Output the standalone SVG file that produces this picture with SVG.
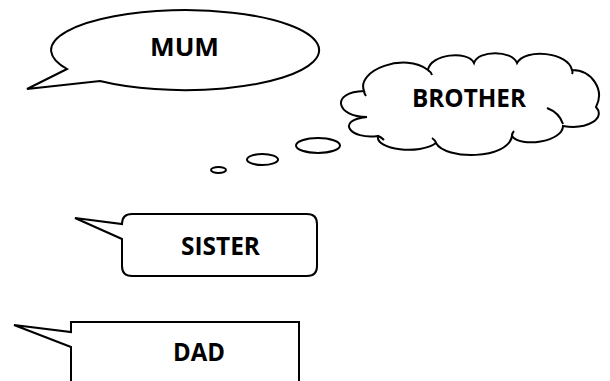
<svg xmlns="http://www.w3.org/2000/svg" width="610" height="381" viewBox="0 0 610 381">
<style>
.shape{fill:#fff;stroke:#000;stroke-width:2;stroke-linejoin:miter}
.tail{fill:none;stroke:#000;stroke-width:2}
.lbl{font-family:"Open Sans","Liberation Sans",sans-serif;font-weight:bold;font-size:25px;fill:#000}
</style>
<rect width="610" height="381" fill="#fff"/>
<g id="mum">
<path class="shape" d="M67,69 L27,89 L100,81 A134,40 0 1 0 67,69 Z"/>
<text class="lbl" x="150" y="56" textLength="69" lengthAdjust="spacingAndGlyphs">MUM</text>
</g>
<g id="brother">
<path class="shape" d="M364,91 C356,70 405,52 428,70 C430,54 468,50 474,63 C478,50 512,50 517,63 C525,48 568,52 572,70 C592,70 605,90 596,107 C606,118 588,130 563,126 C563,142 520,148 512,136 C508,160 445,160 436,143 C420,155 375,150 378,136 C350,140 335,120 367,117 C336,117 330,92 364,91 Z"/>
<path class="tail" d="M428,70 Q431,72 432,75 M572,70 Q573,72 572,74 M547,108 C555,111 560,115 563,124 M512,136 Q512,133 514,131 M436,143 Q435,140 432,138 M378,136 Q381,137 384,140 M367,117 Q363,117 360,117 M364,91 Q364,93 366,96"/>
<text class="lbl" x="412" y="107" textLength="114" lengthAdjust="spacingAndGlyphs">BROTHER</text>
</g>
<g id="thought-bubbles">
<ellipse class="shape" cx="318" cy="145.5" rx="22" ry="7.5"/>
<ellipse class="shape" cx="262.5" cy="159.5" rx="15.5" ry="5.5"/>
<ellipse class="shape" cx="218.5" cy="170" rx="7.5" ry="3"/>
</g>
<g id="sister">
<path class="shape" d="M132,214 H307 Q317,214 317,224 V266 Q317,276 307,276 H132 Q122,276 122,266 V239 L75,218 L122,224 Q122,214 132,214 Z"/>
<text class="lbl" x="181" y="255" textLength="79" lengthAdjust="spacingAndGlyphs">SISTER</text>
</g>
<g id="dad">
<path class="shape" d="M71,322 H299 V390 H71 V347 L14,325 L71,332 Z"/>
<text class="lbl" x="173" y="361" textLength="52" lengthAdjust="spacingAndGlyphs">DAD</text>
</g>
</svg>
